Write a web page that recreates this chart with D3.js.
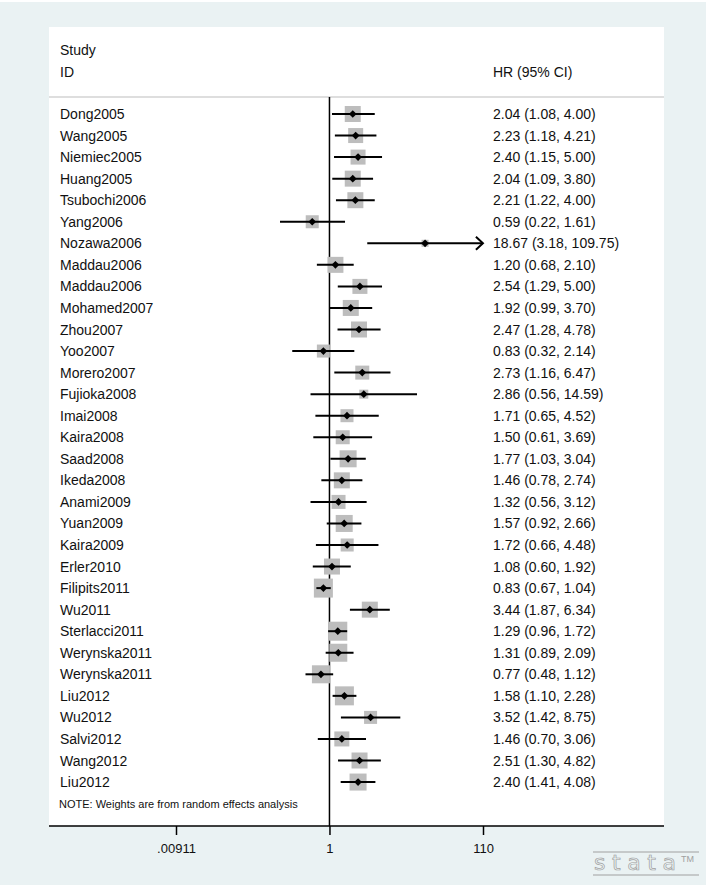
<!DOCTYPE html>
<html><head><meta charset="utf-8">
<script src="https://cdn.jsdelivr.net/npm/d3@7"></script>
<style>
html,body{margin:0;padding:0;background:#fff;}
svg{display:block;font-family:"Liberation Sans",Arial,Helvetica,sans-serif;}
</style></head>
<body>
<svg id="chart" width="709" height="888"></svg>
<script>
const studies = ["Dong2005","Wang2005","Niemiec2005","Huang2005","Tsubochi2006","Yang2006","Nozawa2006","Maddau2006","Maddau2006","Mohamed2007","Zhou2007","Yoo2007","Morero2007","Fujioka2008","Imai2008","Kaira2008","Saad2008","Ikeda2008","Anami2009","Yuan2009","Kaira2009","Erler2010","Filipits2011","Wu2011","Sterlacci2011","Werynska2011","Werynska2011","Liu2012","Wu2012","Salvi2012","Wang2012","Liu2012"];
const hr    = [2.04,2.23,2.40,2.04,2.21,0.59,18.67,1.20,2.54,1.92,2.47,0.83,2.73,2.86,1.71,1.50,1.77,1.46,1.32,1.57,1.72,1.08,0.83,3.44,1.29,1.31,0.77,1.58,3.52,1.46,2.51,2.40];
const lower = [1.08,1.18,1.15,1.09,1.22,0.22,3.18,0.68,1.29,0.99,1.28,0.32,1.16,0.56,0.65,0.61,1.03,0.78,0.56,0.92,0.66,0.60,0.67,1.87,0.96,0.89,0.48,1.10,1.42,0.70,1.30,1.41];
const upper = [4.00,4.21,5.00,3.80,4.00,1.61,109.75,2.10,5.00,3.70,4.78,2.14,6.47,14.59,4.52,3.69,3.04,2.74,3.12,2.66,4.48,1.92,1.04,6.34,1.72,2.09,1.12,2.28,8.75,3.06,4.82,4.08];
const weights = [3.07,2.70,2.70,3.07,3.07,2.03,0.59,3.07,2.70,3.07,3.07,2.03,2.35,0.97,2.03,2.35,3.47,3.07,2.35,3.47,2.03,3.07,4.33,3.07,4.33,3.89,3.89,4.33,2.03,2.70,3.07,3.47];
const tickValues = [0.00911, 1, 110];
const tickLabels = [".00911", "1", "110"];

const svg = d3.select("#chart");

// backgrounds
svg.append("rect").attr("x",0).attr("y",2).attr("width",706).attr("height",883).attr("fill","#eaf2f3");
const panel = {x0:49, x1:664, y0:27, y1:826};
svg.append("rect").attr("x",panel.x0).attr("y",panel.y0).attr("width",panel.x1-panel.x0).attr("height",panel.y1-panel.y0).attr("fill","#fff");

const x = d3.scaleLog().domain([0.00911,110]).range([176,483]);
const y = d3.scaleLinear().domain([0, studies.length]).range([114, 114 + 21.55*studies.length]);
const side = d3.scaleSqrt().domain([0, d3.max(weights)]).range([0, 9.13*Math.sqrt(d3.max(weights))]);

const fmt = d3.format(".2f");
const ink = "#111";

// header
svg.append("text").attr("x",60).attr("y",55).attr("font-size",14).attr("fill",ink).text("Study");
svg.append("text").attr("x",60).attr("y",77).attr("font-size",14).attr("fill",ink).text("ID");
svg.append("text").attr("x",493).attr("y",77).attr("font-size",14).attr("fill",ink).text("HR (95% CI)");
svg.append("line").attr("x1",panel.x0).attr("x2",panel.x1).attr("y1",97).attr("y2",97).attr("stroke","#bdbdbd").attr("stroke-width",1.2);

// null line
svg.append("line").attr("x1",x(1)).attr("x2",x(1)).attr("y1",97).attr("y2",panel.y1).attr("stroke","#000").attr("stroke-width",1.5);

const idx = d3.range(studies.length);
const axMax = x.domain()[1];

// squares
svg.append("g").selectAll("rect").data(idx).join("rect")
  .attr("x", i => x(hr[i]) - side(weights[i])/2)
  .attr("y", i => y(i) - side(weights[i])/2)
  .attr("width", i => side(weights[i]))
  .attr("height", i => side(weights[i]))
  .attr("fill","#bdbdbd");

// CI lines
svg.append("g").selectAll("line").data(idx).join("line")
  .attr("x1", i => x(Math.max(lower[i], x.domain()[0])))
  .attr("x2", i => x(Math.min(upper[i], axMax)))
  .attr("y1", i => y(i)).attr("y2", i => y(i))
  .attr("stroke","#000").attr("stroke-width",2);

// arrows for CIs reaching the axis edge
const arrowIdx = idx.filter(i => upper[i] > 100);
svg.append("g").selectAll("path").data(arrowIdx).join("path")
  .attr("d", i => { const xe = x(Math.min(upper[i], axMax)), yy = y(i); return `M${xe-7},${yy-6.5}L${xe},${yy}L${xe-7},${yy+6.5}`; })
  .attr("fill","none").attr("stroke","#000").attr("stroke-width",2);

// point estimates
svg.append("g").selectAll("path").data(idx).join("path")
  .attr("transform", i => `translate(${x(hr[i])},${y(i)})`)
  .attr("d", d3.symbol(d3.symbolDiamond2, 38)())
  .attr("fill","#000");

// study labels
svg.append("g").selectAll("text").data(idx).join("text")
  .attr("x",60).attr("y", i => y(i) + 5)
  .attr("font-size",14).attr("fill",ink)
  .text(i => studies[i]);

// effect text
svg.append("g").selectAll("text").data(idx).join("text")
  .attr("x",493).attr("y", i => y(i) + 5)
  .attr("font-size",14).attr("fill",ink)
  .text(i => `${fmt(hr[i])} (${fmt(lower[i])}, ${fmt(upper[i])})`);

// note
svg.append("text").attr("x",59).attr("y", y(studies.length) + 4).attr("font-size",11).attr("fill",ink)
  .text("NOTE: Weights are from random effects analysis");

// axis
const axis = d3.axisBottom(x).tickValues(tickValues).tickFormat((d,i) => tickLabels[i]).tickSize(9).tickSizeOuter(0);
const gA = svg.append("g").attr("transform",`translate(0,${panel.y1})`).call(axis);
gA.select(".domain").remove();
gA.selectAll(".tick line").attr("stroke","#000").attr("stroke-width",1.5);
gA.selectAll(".tick text").attr("font-size",13).attr("fill",ink).attr("font-family","Liberation Sans, Arial, sans-serif").attr("dy","1.15em");
svg.append("line").attr("x1",panel.x0).attr("x2",panel.x1).attr("y1",panel.y1).attr("y2",panel.y1).attr("stroke","#000").attr("stroke-width",1.5);

// stata logo
const lg = svg.append("g");
lg.append("line").attr("x1",593).attr("x2",699).attr("y1",852).attr("y2",852).attr("stroke","#a0a0a0").attr("stroke-width",1);
lg.append("line").attr("x1",593).attr("x2",699).attr("y1",875).attr("y2",875).attr("stroke","#a0a0a0").attr("stroke-width",1);
lg.append("text").attr("x",594).attr("y",870).attr("font-size",22).attr("fill","none").attr("stroke","#a0a0a0").attr("stroke-width",0.7)
  .attr("textLength",82).attr("lengthAdjust","spacing").attr("font-family","DejaVu Sans, sans-serif").text("stata");
lg.append("text").attr("x",681).attr("y",862).attr("font-size",9).attr("fill","#a0a0a0").text("TM");
</script>
</body></html>
